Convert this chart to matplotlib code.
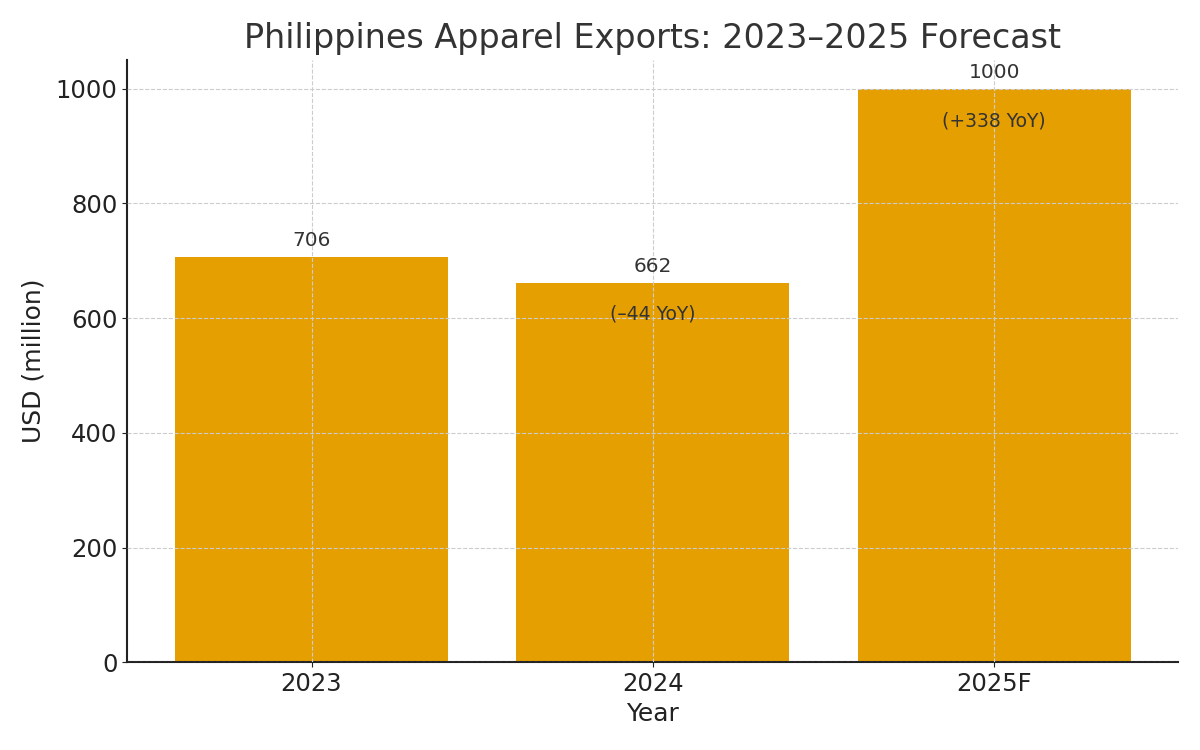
import matplotlib
matplotlib.use("Agg")
import matplotlib.pyplot as plt

years = ["2023", "2024", "2025F"]
exports = [706, 662, 1000]
yoy_labels = [None, "(–44 YoY)", "(+338 YoY)"]

bar_color = "#E69F00"
text_dark = "#333333"

fig, ax = plt.subplots(figsize=(12, 7.5), dpi=100)
bars = ax.bar(years, exports, width=0.8, color=bar_color)

ax.set_title("Philippines Apparel Exports: 2023–2025 Forecast", fontsize=24, color=text_dark, pad=8.5)
ax.set_xlabel("Year", fontsize=18, color="#222222", labelpad=4)
ax.set_ylabel("USD (million)", fontsize=18, color="#222222", labelpad=7)
ax.tick_params(axis="both", labelsize=17.5, colors="#222222")

ax.grid(True, linestyle="--", linewidth=0.8, color="#cccccc")
ax.set_axisbelow(False)
ax.spines["top"].set_visible(False)
ax.spines["right"].set_visible(False)
ax.spines["left"].set_linewidth(1.5)
ax.spines["bottom"].set_linewidth(1.5)
ax.spines["left"].set_color("#222222")
ax.spines["bottom"].set_color("#222222")

for rect, val, yoy in zip(bars, exports, yoy_labels):
    cx = rect.get_x() + rect.get_width() / 2
    ax.annotate(str(val), (cx, val), xytext=(0, 5), textcoords="offset points",
                ha="center", va="bottom", fontsize=14.5, color=text_dark)
    if yoy:
        ax.annotate(yoy, (cx, val), xytext=(0, -23), textcoords="offset points",
                    ha="center", va="center", fontsize=13.5, color=text_dark)

fig.subplots_adjust(left=0.106, right=0.982, top=0.92, bottom=0.117)
fig.savefig("out.png", dpi=100)
